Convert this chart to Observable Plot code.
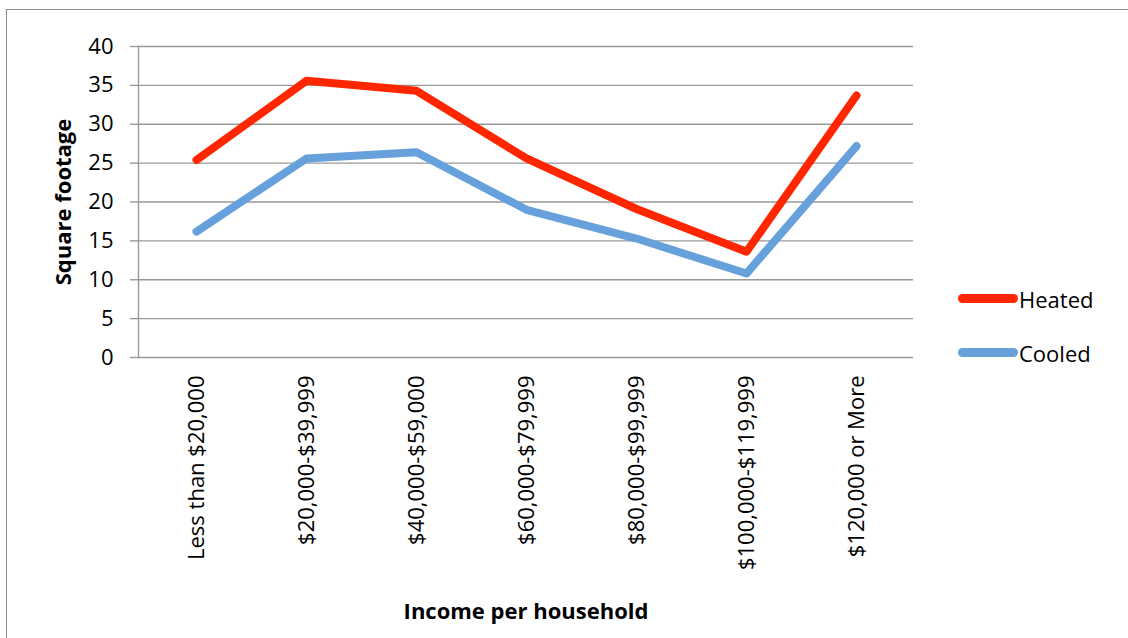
<!DOCTYPE html>
<html><head><meta charset="utf-8">
<script src="https://cdn.jsdelivr.net/npm/d3@7"></script>
<script src="https://cdn.jsdelivr.net/npm/@observablehq/plot@0.6"></script>
<style>
body{margin:0;background:#fff;overflow:hidden;font-family:"Open Sans",sans-serif;}
#wrap{position:relative;width:1128px;height:638px;overflow:hidden;}
#border{position:absolute;left:6px;top:9px;width:1300px;height:800px;border:1.5px solid #8c8c8c;}
#chart{position:absolute;left:0;top:0;}
#legend{position:absolute;left:958px;top:285px;font-size:22px;color:#000;}
.item{display:flex;align-items:center;height:27px;margin-bottom:27px;}
.sw{width:60px;height:9px;border-radius:5px;margin-right:1px;}
</style></head>
<body>
<div id="wrap"><div id="border"></div><div id="chart"></div><div id="legend"></div></div>
<script>
const categories = ["Less than $20,000", "$20,000-$39,999", "$40,000-$59,000", "$60,000-$79,999", "$80,000-$99,999", "$100,000-$119,999", "$120,000 or More"];
const heated = [25.4, 35.6, 34.3, 25.6, 19.1, 13.6, 33.7];
const cooled = [16.2, 25.6, 26.4, 19.0, 15.3, 10.8, 27.2];
const seriesNames = ["Heated", "Cooled"];
const seriesColors = ["#ff2600", "#66a1dc"];
const yTicks = [0, 5, 10, 15, 20, 25, 30, 35, 40];

const data = [];
categories.forEach((c, i) => {
  data.push({category: c, series: "Cooled", value: cooled[i]});
});
categories.forEach((c, i) => {
  data.push({category: c, series: "Heated", value: heated[i]});
});

const chart = Plot.plot({
  width: 1128, height: 638,
  marginLeft: 138, marginRight: 215, marginTop: 46, marginBottom: 281,
  style: {fontFamily: "'Open Sans', sans-serif", fontSize: "22px", color: "#000", background: "transparent", overflow: "visible"},
  x: {type: "point", domain: categories, padding: 0.5},
  y: {domain: [0, 40]},
  color: {domain: seriesNames, range: seriesColors},
  marks: [
    Plot.ruleY(yTicks, {stroke: "#999", strokeWidth: 1.4}),
    Plot.frame({anchor: "left", stroke: "#999", strokeWidth: 1.4}),
    Plot.axisY({ticks: yTicks, tickSize: 8, tickPadding: 17, label: null, stroke: "#999", strokeWidth: 1.4, fill: "#000"}),
    Plot.axisX({tickSize: 0, tickRotate: -90, tickPadding: 18, label: null, fill: "#000"}),
    Plot.line(data, {x: "category", y: "value", z: "series", stroke: "series", strokeWidth: 8, strokeLinecap: "round", strokeLinejoin: "round"}),
    Plot.text(["Square footage"], {text: d => d, frameAnchor: "left", textAnchor: "middle", dx: -75, rotate: -90, fontWeight: "bold", fill: "#000"}),
    Plot.text(["Income per household"], {text: d => d, frameAnchor: "bottom", textAnchor: "middle", dy: 261, fontWeight: "bold", fill: "#000"})
  ]
});
document.getElementById("chart").appendChild(chart);

const legend = document.getElementById("legend");
seriesNames.forEach((name, i) => {
  const item = document.createElement("div");
  item.className = "item";
  const sw = document.createElement("div");
  sw.className = "sw";
  sw.style.background = seriesColors[i];
  const label = document.createElement("span");
  label.textContent = name;
  item.appendChild(sw);
  item.appendChild(label);
  legend.appendChild(item);
});
</script>
</body></html>
